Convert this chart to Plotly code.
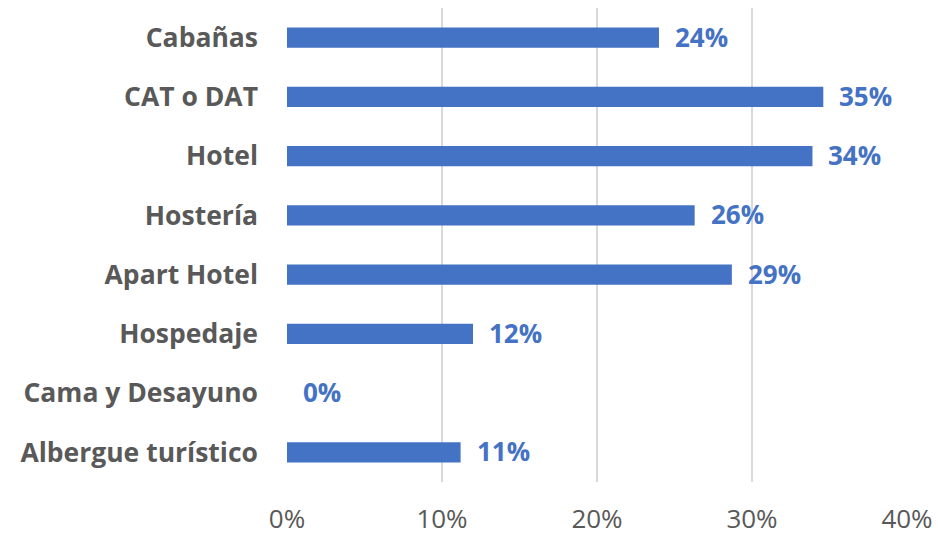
import plotly.graph_objects as go

categories = ["Albergue turístico", "Cama y Desayuno", "Hospedaje", "Apart Hotel",
              "Hostería", "Hotel", "CAT o DAT", "Cabañas"]
values = [0.112, 0.0, 0.12, 0.287, 0.263, 0.339, 0.346, 0.24]
labels = ["11%", "0%", "12%", "29%", "26%", "34%", "35%", "24%"]
x_ticks = [0, 0.1, 0.2, 0.3, 0.4]
x_tick_labels = ["0%", "10%", "20%", "30%", "40%"]

BLUE = "#4472C4"
GREY = "#595959"

fig = go.Figure()
fig.add_trace(go.Bar(
    y=categories, x=values, orientation="h",
    marker=dict(color=BLUE, line=dict(width=0)),
    hoverinfo="skip",
))

for c, v, t in zip(categories, values, labels):
    fig.add_annotation(
        x=v, y=c, text=f"<b>{t}</b>", showarrow=False,
        xanchor="left", yanchor="middle", xshift=14, yshift=1,
        font=dict(family="Open Sans", size=26, color=BLUE),
    )

fig.update_layout(
    width=938, height=535,
    margin=dict(l=287, r=31, t=8, b=53, autoexpand=False),
    plot_bgcolor="white", paper_bgcolor="white",
    bargap=0.66, showlegend=False,
    xaxis=dict(
        range=[0, 0.4], tickvals=x_ticks, ticktext=x_tick_labels,
        showgrid=True, gridcolor="#d9d9d9", gridwidth=1.5,
        zeroline=False, showline=False,
        tickfont=dict(family="Open Sans", size=26, color=GREY),
        ticklabelstandoff=19,
    ),
    yaxis=dict(
        categoryorder="array", categoryarray=categories,
        showgrid=False, zeroline=False, showline=False,
        tickfont=dict(family="Open Sans", size=26.5, color=GREY, weight="bold"),
        ticklabelstandoff=28,
    ),
)

fig.write_html("out.html", config={"displayModeBar": False},
               post_script="document.body.style.margin='0';document.body.style.padding='0';")
